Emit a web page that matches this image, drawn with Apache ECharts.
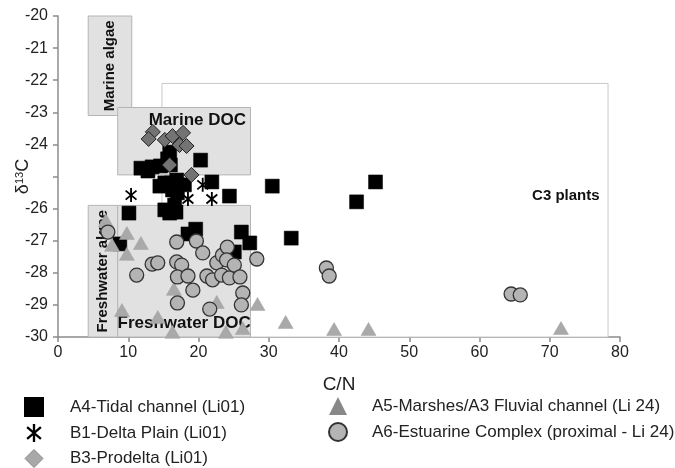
<!DOCTYPE html>
<html>
<head>
<meta charset="utf-8">
<script src="https://cdn.jsdelivr.net/npm/echarts@6/dist/echarts.min.js"></script>
<style>html,body{margin:0;padding:0;background:#fff}#c{width:675px;height:468px}</style>
</head>
<body>
<div id="c"></div>
<script>
// ---- data ----
var seriesNames = ['A4-Tidal channel (Li01)', 'B1-Delta Plain (Li01)', 'B3-Prodelta (Li01)',
  'A5-Marshes/A3 Fluvial channel (Li 24)', 'A6-Estuarine Complex (proximal - Li 24)'];
var xTicks = [0, 10, 20, 30, 40, 50, 60, 70, 80];
var yTicks = [-30, -29, -28, -27, -26, -25, -24, -23, -22, -21, -20];

var tidalChannel = [
  [11.8,-24.74],[12.8,-24.83],[13.4,-24.70],[14.6,-24.67],[15.6,-24.45],[15.9,-24.24],[16.0,-24.64],
  [20.3,-24.49],[14.5,-25.30],[15.2,-25.20],[16.1,-25.20],[16.9,-25.11],[16.3,-25.42],[17.0,-25.51],
  [18.0,-25.26],[21.9,-25.17],[24.4,-25.61],[30.5,-25.30],[15.2,-26.04],[15.9,-26.14],[16.8,-26.11],
  [16.6,-25.89],[10.1,-26.14],[8.8,-27.10],[18.5,-26.79],[19.6,-26.64],[26.1,-26.73],[27.3,-27.07],
  [25.1,-27.35],[33.2,-26.92],[42.5,-25.79],[45.2,-25.17]
];
var deltaPlain = [[10.4,-25.58],[18.5,-25.70],[21.9,-25.70],[20.6,-25.26]];
var prodelta = [
  [13.5,-23.61],[12.9,-23.83],[15.2,-23.86],[16.3,-23.74],[17.8,-23.64],[17.3,-24.02],[18.3,-24.05],
  [15.9,-24.64],[19.0,-24.95]
];
var marshes = [
  [6.8,-26.36],[9.8,-26.76],[11.8,-27.07],[7.7,-27.13],[9.8,-27.41],[9.1,-29.16],[14.2,-29.38],
  [16.5,-28.50],[22.6,-28.91],[28.4,-28.97],[16.3,-29.84],[23.9,-29.84],[26.3,-29.72],[32.4,-29.53],
  [39.3,-29.75],[44.2,-29.75],[71.6,-29.72]
];
var estuarine = [
  [7.1,-26.73],[11.2,-28.07],[13.4,-27.73],[14.2,-27.69],[16.9,-27.04],[16.9,-27.66],[17.6,-27.76],
  [17.0,-28.13],[18.5,-28.10],[19.2,-28.54],[17.0,-28.94],[19.7,-27.01],[20.6,-27.38],[21.2,-28.10],
  [22.0,-28.22],[22.6,-27.69],[23.3,-28.07],[23.4,-27.45],[24.1,-27.20],[24.0,-27.60],[24.4,-28.16],
  [25.1,-27.76],[25.9,-28.13],[26.3,-28.63],[26.1,-29.00],[21.6,-29.13],[28.3,-27.57],[38.2,-27.85],
  [38.6,-28.10],[64.5,-28.66],[65.8,-28.69]
];
// source regions: [name, xFrom, yFrom, xTo, yTo]
var regionC3 = ['C3 plants', 14.8, -22.1, 78.3, -30];
var regionMarineAlgae = ['Marine algae', 4.3, -19.97, 10.5, -23.1];
var regionMarineDOC = ['Marine DOC', 8.5, -22.85, 27.4, -24.95];
var regionFreshAlgae = ['Freshwater algae', 4.3, -25.9, 8.5, -30];
var regionFreshDOC = ['Freshwater DOC', 8.5, -25.9, 27.4, -30];

// ---- chart ----
var FONT = 'Liberation Sans, Arial, sans-serif';
var asterisk = 'path://M-1.3,-10L1.3,-10L1.3,10L-1.3,10Z' +
  'M6.82,7.43L-8.5,-5.43L-6.82,-7.43L8.5,5.43Z' +
  'M-6.82,7.43L-8.5,5.43L6.82,-7.43L8.5,-5.43Z';

function area(r, fill, border, label) {
  return [
    {name: r[0], coord: [r[1], r[2]], itemStyle: {color: fill, borderColor: border, borderWidth: 1}, label: label},
    {coord: [r[3], r[4]]}
  ];
}
var boxLabel = {show: true, color: '#111', fontWeight: 'bold', fontFamily: FONT, fontSize: 17};

var chart = echarts.init(document.getElementById('c'), null, {renderer: 'canvas'});
chart.setOption({
  animation: false,
  grid: {left: 58, right: 55, top: 16, bottom: 131, containLabel: false, outerBoundsMode: 'none'},
  xAxis: {
    type: 'value', min: xTicks[0], max: xTicks[xTicks.length - 1], interval: 10,
    name: 'C/N', nameLocation: 'middle', nameGap: 38, nameMoveOverlap: false,
    nameTextStyle: {fontSize: 19, color: '#222', fontFamily: FONT},
    axisLine: {show: true, lineStyle: {color: '#8c8c8c', width: 1.5}},
    axisTick: {show: true, length: 5, lineStyle: {color: '#8c8c8c', width: 1.5}},
    axisLabel: {fontSize: 16, color: '#222', fontFamily: FONT, margin: 8},
    splitLine: {show: false}
  },
  yAxis: {
    type: 'value', min: yTicks[0], max: yTicks[yTicks.length - 1], interval: 1,
    name: 'δ{sup|13}C', nameLocation: 'middle', nameGap: 26, nameRotate: 90, nameMoveOverlap: false,
    nameTextStyle: {fontSize: 18, color: '#222', fontFamily: FONT, backgroundColor: '#fff',
      rich: {sup: {fontSize: 11, verticalAlign: 'top', color: '#222', fontFamily: FONT, padding: [0, 0, 6, 0]}}},
    axisLine: {show: true, lineStyle: {color: '#8c8c8c', width: 1.5}},
    axisTick: {show: true, length: 5, lineStyle: {color: '#8c8c8c', width: 1.5}},
    axisLabel: {fontSize: 16, color: '#222', fontFamily: FONT, margin: 10,
      formatter: function (v) { return v === -25 ? '' : String(v); }},
    splitLine: {show: false}
  },
  legend: [
    {orient: 'vertical', left: 24, top: 397, padding: 0, itemWidth: 18, itemHeight: 18, itemGap: 7,
      textStyle: {fontSize: 17, color: '#222', fontFamily: FONT, padding: [0, 0, 0, 22]},
      data: [
        {name: seriesNames[0]},
        {name: seriesNames[1]},
        {name: seriesNames[2], itemStyle: {color: '#a8a8a8', borderColor: '#888', borderWidth: 1}}
      ]},
    {orient: 'vertical', left: 328, top: 397, padding: 0, itemWidth: 18, itemHeight: 18, itemGap: 7,
      textStyle: {fontSize: 17, color: '#222', fontFamily: FONT, padding: [0, 0, 0, 20]},
      data: [
        {name: seriesNames[3], itemStyle: {color: '#888', borderColor: '#888', borderWidth: 0}},
        {name: seriesNames[4]}
      ]}
  ],
  series: [
    {
      type: 'scatter', name: 'regions', data: [], z: 1, silent: true,
      markArea: {
        silent: true,
        data: [
          area(regionC3, '#ffffff', '#c8c8c8', Object.assign({}, boxLabel, {fontSize: 15, position: 'insideRight', distance: 9, offset: [0, -14]})),
          area(regionMarineAlgae, '#e1e1e1', '#b5b5b5', Object.assign({}, boxLabel, {fontSize: 15, position: 'inside', rotate: 90})),
          area(regionMarineDOC, '#e1e1e1', '#b5b5b5', Object.assign({}, boxLabel, {position: 'insideTopRight', distance: 5})),
          area(regionFreshAlgae, '#e1e1e1', '#b5b5b5', Object.assign({}, boxLabel, {fontSize: 15, position: 'inside', rotate: 90})),
          area(regionFreshDOC, '#e1e1e1', '#b5b5b5', Object.assign({}, boxLabel, {position: 'insideBottom', distance: 6}))
        ]
      }
    },
    {type: 'scatter', name: seriesNames[0], data: tidalChannel, z: 3, symbol: 'rect', symbolSize: 14,
      itemStyle: {color: '#000', borderColor: '#000', borderWidth: 0.5, opacity: 1}},
    {type: 'scatter', name: seriesNames[1], data: deltaPlain, z: 4, symbol: asterisk, symbolSize: [12, 14],
      itemStyle: {color: '#000', opacity: 1}},
    {type: 'scatter', name: seriesNames[2], data: prodelta, z: 5, symbol: 'diamond', symbolSize: 15,
      itemStyle: {color: '#737373', borderColor: '#222', borderWidth: 1, opacity: 1}},
    {type: 'scatter', name: seriesNames[3], data: marshes, z: 6, symbol: 'triangle', symbolSize: [15, 13],
      itemStyle: {color: '#a9a9a9', borderColor: '#a0a0a0', borderWidth: 0.5, opacity: 1}},
    {type: 'scatter', name: seriesNames[4], data: estuarine, z: 7, symbol: 'circle', symbolSize: 14,
      itemStyle: {color: '#b4b4b4', borderColor: '#333', borderWidth: 1.3, opacity: 1}}
  ]
});
</script>
</body>
</html>
